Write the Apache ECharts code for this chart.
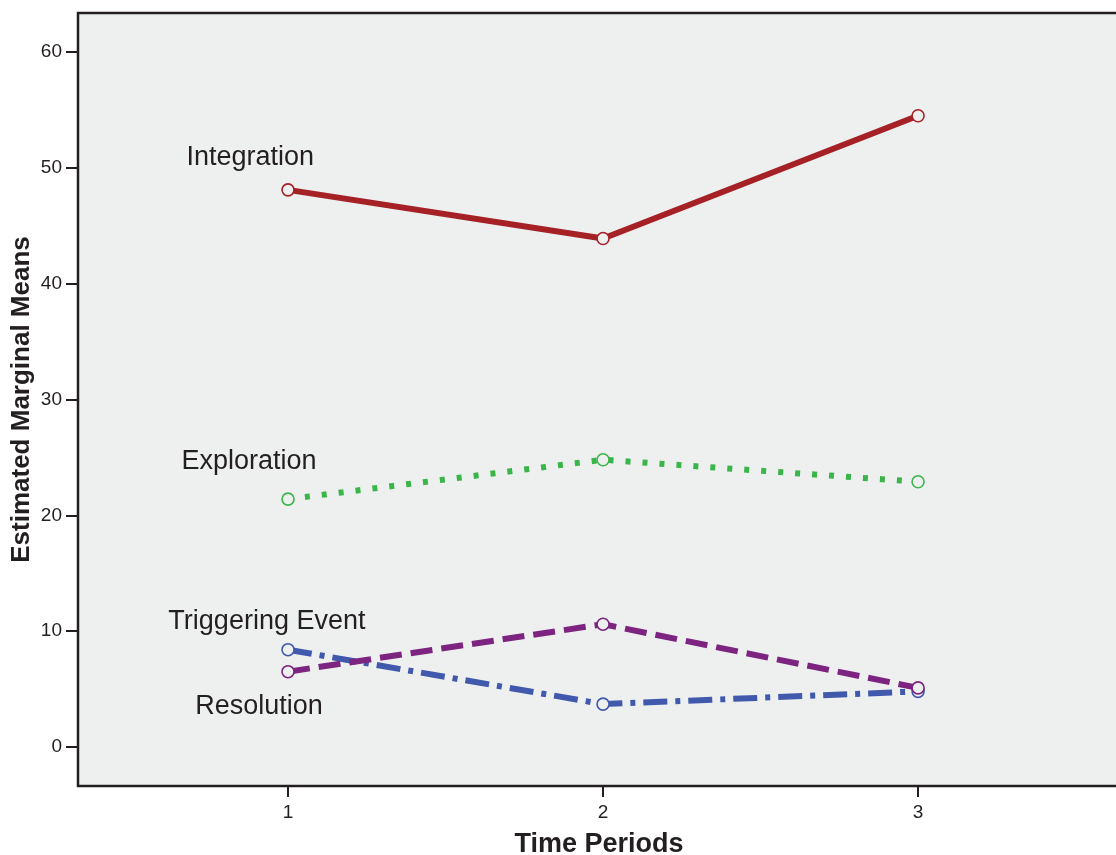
<!DOCTYPE html>
<html>
<head>
<meta charset="utf-8">
<script src="https://cdn.jsdelivr.net/npm/echarts@6/dist/echarts.min.js"></script>
<style>
html,body{margin:0;padding:0;background:#fff;overflow:hidden;}
#chart{width:1116px;height:855px;}
</style>
</head>
<body>
<div id="chart"></div>
<script>
// Data
const timePeriods = [1, 2, 3];
const integration = [48.1, 43.9, 54.5];
const exploration = [21.4, 24.8, 22.9];
const triggeringEvent = [6.5, 10.6, 5.1];
const resolution = [8.4, 3.7, 4.8];
const yTicks = [0, 10, 20, 30, 40, 50, 60];
const xTicks = [1, 2, 3];
// annotation label anchor points (data coordinates)
const labelNames = ['Integration', 'Exploration', 'Triggering Event', 'Resolution'];
const labelCoords = [[0.88, 50.9], [0.876, 24.6], [0.933, 10.8], [0.908, 3.45]];

const FONT = '"Liberation Sans", Arial, sans-serif';
const BG = '#eef0f0';
const chart = echarts.init(document.getElementById('chart'), null, {renderer: 'canvas'});

function pairs(vals) { return timePeriods.map((t, i) => [t, vals[i]]); }

function mkSeries(name, vals, color, type, z) {
  return {
    name: name,
    type: 'line',
    data: pairs(vals),
    symbol: 'circle',
    symbolSize: 12,
    z: z,
    lineStyle: {color: color, width: 6, type: type, cap: 'butt'},
    itemStyle: {color: BG, borderColor: color, borderWidth: 1.6},
    emphasis: {disabled: true},
    animation: false
  };
}

const labelSeries = {
  type: 'scatter',
  data: labelCoords.map((c, i) => ({value: c, name: labelNames[i]})),
  symbolSize: 1,
  silent: true,
  itemStyle: {opacity: 1, color: 'rgba(0,0,0,0)'},
  label: {
    show: true,
    position: 'inside',
    formatter: p => p.name,
    fontFamily: FONT,
    fontSize: 27,
    color: '#231f20',
    opacity: 1
  },
  animation: false,
  z: 10
};

chart.setOption({
  backgroundColor: '#ffffff',
  animation: false,
  grid: {
    left: 78, top: 13, right: -4, bottom: 69,
    outerBoundsMode: 'none',
    containLabel: false,
    show: true,
    backgroundColor: BG,
    borderColor: '#231f20',
    borderWidth: 2.5
  },
  xAxis: {
    type: 'value',
    min: 0.3333,
    max: 3.641,
    name: 'Time Periods',
    nameLocation: 'middle',
    nameGap: 45,
    nameMoveOverlap: false,
    nameTextStyle: {fontFamily: FONT, fontSize: 27, fontWeight: 'bold', color: '#231f20'},
    axisLine: {show: false, onZero: false},
    splitLine: {show: false},
    axisTick: {show: true, inside: false, length: 11, customValues: xTicks, lineStyle: {color: '#231f20', width: 2}},
    axisLabel: {customValues: xTicks, fontFamily: FONT, fontSize: 19, color: '#231f20', margin: 17}
  },
  yAxis: {
    type: 'value',
    min: -3.37,
    max: 63.37,
    name: 'Estimated Marginal Means',
    nameLocation: 'middle',
    nameGap: 43,
    nameMoveOverlap: false,
    nameRotate: 90,
    nameTextStyle: {fontFamily: FONT, fontSize: 26, fontWeight: 'bold', color: '#231f20'},
    axisLine: {show: false, onZero: false},
    splitLine: {show: false},
    axisTick: {show: true, inside: false, length: 12, customValues: yTicks, lineStyle: {color: '#231f20', width: 2}},
    axisLabel: {customValues: yTicks, fontFamily: FONT, fontSize: 19, color: '#231f20', margin: 16}
  },
  series: [
    mkSeries('Integration', integration, '#a52126', 'solid', 3),
    mkSeries('Exploration', exploration, '#3ab54a', [5, 12], 3),
    mkSeries('Resolution', resolution, '#4159ad', [24, 8, 5, 8], 3),
    mkSeries('Triggering Event', triggeringEvent, '#7c2480', [22, 9], 4),
    labelSeries
  ]
});
</script>
</body>
</html>
